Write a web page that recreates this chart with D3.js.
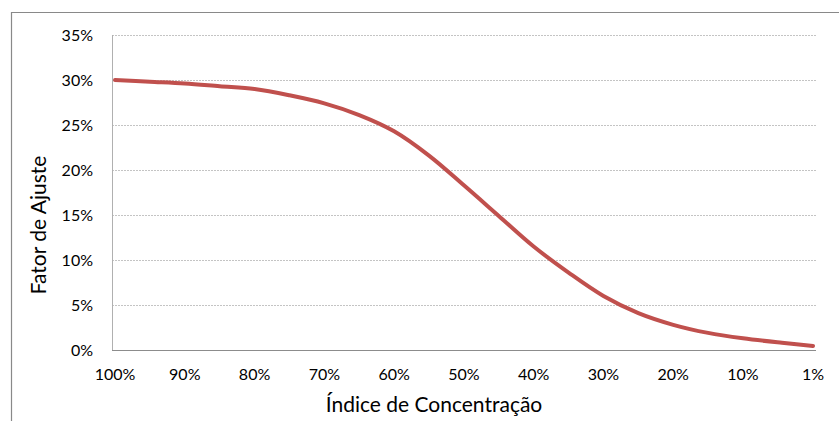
<!DOCTYPE html>
<html lang="pt">
  <head>
    <meta charset="utf-8">
    <title>Fator de Ajuste</title>
    <script src="https://d3js.org/d3.v7.min.js"></script>
    <style>
      body { margin: 0; background: white; }
      text { font-family: Lato, "Open Sans", sans-serif; fill: #000; }
    </style>
  </head>
  <body>
    <svg width="839" height="421"></svg>
    <script>
      // concentration index (%) and adjustment factor (%)
      var conc = [100, 95, 90, 85, 80, 75, 70, 65, 60, 55, 50, 45, 40, 35, 30, 25, 20, 15, 10, 5, 1];
      var factor = [30.0, 29.8, 29.6, 29.3, 29.0, 28.3, 27.4, 26.1, 24.3, 21.6, 18.3, 14.9, 11.5, 8.6, 6.0, 4.1, 2.8, 1.9, 1.3, 0.8, 0.45];
      var xTicks = [100, 90, 80, 70, 60, 50, 40, 30, 20, 10, 1];
      var yTicks = [0, 5, 10, 15, 20, 25, 30, 35];

      var svg = d3.select("svg");
      var plotLeft = 112, plotRight = 816, plotTop = 35, plotBottom = 350;

      // outer chart frame (cropped on the right and bottom)
      svg.append("path")
        .attr("d", "M11.5,430V12.5H850")
        .attr("fill", "none").attr("stroke", "#898989").attr("stroke-width", 1.2);

      // the categories are evenly spaced, "1%" takes the last slot
      var x = d3.scaleLinear().domain([100, 10, 1]).range([115, 743, 813]);
      var y = d3.scaleLinear().domain([0, 35]).range([plotBottom, plotTop]);

      svg.append("g").selectAll("line").data(yTicks.filter(function(d) { return d > 0; }))
        .join("line")
        .attr("x1", plotLeft).attr("x2", plotRight)
        .attr("y1", function(d) { return y(d) + 0.5; })
        .attr("y2", function(d) { return y(d) + 0.5; })
        .attr("stroke", "#c4c4c4").attr("stroke-dasharray", "2,1");

      svg.append("line")
        .attr("x1", plotLeft + 0.5).attr("x2", plotLeft + 0.5)
        .attr("y1", plotTop).attr("y2", plotBottom)
        .attr("stroke", "#b0b0b0");
      svg.append("line")
        .attr("x1", plotLeft).attr("x2", plotRight)
        .attr("y1", plotBottom + 0.5).attr("y2", plotBottom + 0.5)
        .attr("stroke", "#8c8c8c");

      svg.append("g").selectAll("text").data(yTicks).join("text")
        .attr("x", 93).attr("y", function(d) { return y(d) + 5.5; })
        .attr("text-anchor", "end").attr("font-size", 16)
        .text(function(d) { return d + "%"; });

      svg.append("g").selectAll("text").data(xTicks).join("text")
        .attr("x", function(d) { return x(d); }).attr("y", 380)
        .attr("text-anchor", "middle").attr("font-size", 16)
        .text(function(d) { return d + "%"; });

      var line = d3.line()
        .x(function(d, i) { return x(conc[i]); })
        .y(function(d) { return y(d); })
        .curve(d3.curveCatmullRom.alpha(0.5));

      svg.append("path").datum(factor)
        .attr("d", line)
        .attr("fill", "none").attr("stroke", "#c0504d")
        .attr("stroke-width", 4).attr("stroke-linecap", "round");

      svg.append("text")
        .attr("x", 434).attr("y", 412)
        .attr("text-anchor", "middle").attr("font-size", 21)
        .text("Índice de Concentração");

      svg.append("text")
        .attr("transform", "translate(46,225) rotate(-90)")
        .attr("text-anchor", "middle").attr("font-size", 21)
        .text("Fator de Ajuste");
    </script>
  </body>
</html>
